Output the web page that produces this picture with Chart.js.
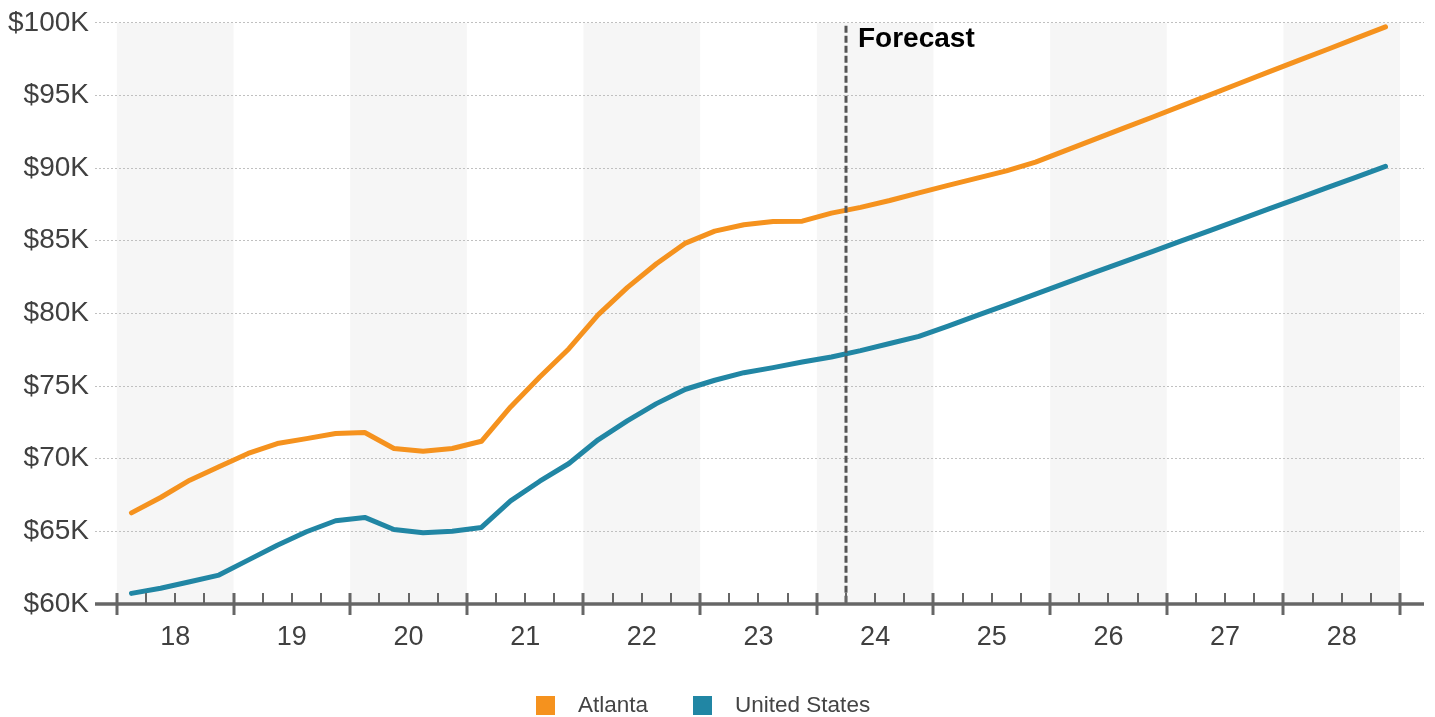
<!DOCTYPE html>
<html>
<head>
<meta charset="utf-8">
<script src="https://cdn.jsdelivr.net/npm/chart.js@4/dist/chart.umd.min.js"></script>
<style>
  body { margin: 0; background: #fff; font-family: "Liberation Sans", Arial, sans-serif; }
  #wrap { position: relative; width: 1435px; height: 717px; }
  #legend { position: absolute; left: 536px; top: 692px; display: flex; align-items: center; font-size: 22.5px; color: #444; }
  .item { display: flex; align-items: center; margin-right: 45px; }
  .swatch { width: 19px; height: 19px; margin-right: 23px; }
</style>
</head>
<body>
<div id="wrap">
  <canvas id="chart" width="1435" height="717"></canvas>
  <div id="legend"></div>
</div>
<script>
const years = ["18","19","20","21","22","23","24","25","26","27","28"];
const quarters = ["Q1","Q2","Q3","Q4"];

// median household income, $K, quarterly 2018 Q1 .. 2028 Q4
const atlanta = [
  66.27, 67.33, 68.52, 69.44, 70.36, 71.04, 71.38, 71.73,
  71.8, 70.7, 70.52, 70.7, 71.2, 73.56, 75.62, 77.57,
  79.9, 81.77, 83.42, 84.84, 85.66, 86.1, 86.32, 86.35,
  86.9, 87.3, 87.77, 88.29, 88.81, 89.31, 89.81, 90.41,
  91.18, 91.96, 92.73, 93.5, 94.28, 95.06, 95.84, 96.62,
  97.4, 98.16, 98.94, 99.72
];
const unitedStates = [
  60.73, 61.08, 61.53, 61.99, 63.02, 64.05, 64.97, 65.73,
  65.96, 65.13, 64.9, 65.0, 65.27, 67.1, 68.45, 69.67,
  71.3, 72.6, 73.79, 74.78, 75.4, 75.92, 76.27, 76.65,
  77.0, 77.44, 77.93, 78.42, 79.13, 79.86, 80.59, 81.33,
  82.06, 82.8, 83.53, 84.25, 84.99, 85.72, 86.45, 87.19,
  87.92, 88.65, 89.38, 90.12
];
const seriesNames = ["Atlanta", "United States"];
const seriesColors = ["#f5921e", "#2186a4"];
const yTicks = [60, 65, 70, 75, 80, 85, 90, 95, 100];
const forecastFrom = 25; // first forecast quarter (24 Q2)

const labels = [];
years.forEach(y => quarters.forEach(q => labels.push(q + " " + y)));

const FONT = "'Liberation Sans', Arial, sans-serif";

const decor = {
  id: "decor",
  beforeDraw(chart){
    const ctx = chart.ctx, x = chart.scales.x, a = chart.chartArea;
    ctx.save();
    ctx.fillStyle = "#f6f6f6";
    years.forEach((y,k)=>{
      if(k % 2) return;
      const x0 = x.getPixelForValue(4*k - 0.5);
      const x1 = x.getPixelForValue(4*k + 3.5);
      ctx.fillRect(x0, a.top, x1 - x0, a.bottom - a.top);
    });
    ctx.restore();
  },
  afterDatasetsDraw(chart){
    const ctx = chart.ctx, x = chart.scales.x, a = chart.chartArea;
    ctx.save();
    // forecast divider
    const fx = Math.round(x.getPixelForValue(forecastFrom - 0.5));
    ctx.strokeStyle = "#555";
    ctx.lineWidth = 3;
    ctx.setLineDash([7,3]);
    ctx.beginPath(); ctx.moveTo(fx, a.top + 3); ctx.lineTo(fx, a.bottom); ctx.stroke();
    ctx.setLineDash([]);
    ctx.fillStyle = "#000";
    ctx.font = "bold 28px " + FONT;
    ctx.textBaseline = "alphabetic";
    ctx.fillText("Forecast", fx + 12, 47);

    // x axis line and ticks
    ctx.strokeStyle = "#666";
    ctx.lineWidth = 3.5;
    ctx.beginPath(); ctx.moveTo(a.left, a.bottom); ctx.lineTo(a.right, a.bottom); ctx.stroke();
    for(let i = 0; i <= labels.length; i++){
      const px = Math.round(x.getPixelForValue(i - 0.5));
      const major = i % 4 === 0;
      ctx.lineWidth = major ? 3 : 2;
      ctx.beginPath();
      ctx.moveTo(px, a.bottom - 11);
      ctx.lineTo(px, major ? a.bottom + 11 : a.bottom);
      ctx.stroke();
    }
    ctx.restore();
  }
};

const ctx = document.getElementById("chart").getContext("2d");
new Chart(ctx, {
  type: "line",
  data: {
    datasets: [atlanta, unitedStates].map((vals, s)=>({
      label: seriesNames[s],
      data: vals.map((v,i)=>({ x: i, y: v })),
      borderColor: seriesColors[s],
      backgroundColor: seriesColors[s],
      borderWidth: 5,
      borderCapStyle: "round",
      borderJoinStyle: "round",
      pointRadius: 0,
      tension: 0
    }))
  },
  options: {
    responsive: false,
    animation: false,
    devicePixelRatio: 1,
    layout: { padding: { top: 22, right: 11, left: 0, bottom: 0 } },
    plugins: { legend: { display: false }, tooltip: { enabled: false } },
    scales: {
      x: {
        type: "linear",
        min: -1.25,
        max: 44.32,
        afterBuildTicks: s => { s.ticks = years.map((y,k)=>({ value: 4*k + 1.5 })); },
        afterFit: s => { s.height = 113; },
        grid: { display: false, drawTicks: false },
        border: { display: false },
        ticks: {
          autoSkip: false, maxRotation: 0, padding: 17,
          color: "#404040", font: { family: FONT, size: 27 },
          callback: (v, i) => years[i]
        }
      },
      y: {
        min: 60,
        max: 100,
        afterBuildTicks: s => { s.ticks = yTicks.map(v=>({ value: v })); },
        afterFit: s => { s.width = 95; },
        grid: {
          drawTicks: false,
          color: c => c.tick && c.tick.value === 60 ? "rgba(0,0,0,0)" : "#c0c0c0",
          lineWidth: 1
        },
        border: { display: false, dash: [2,2] },
        ticks: {
          padding: 6,
          color: "#404040", font: { family: FONT, size: 28 },
          callback: v => "$" + v + "K"
        }
      }
    }
  },
  plugins: [decor]
});

// legend
const legendEl = document.getElementById("legend");
seriesNames.forEach((name, s)=>{
  const item = document.createElement("div");
  item.className = "item";
  item.innerHTML = `<span class="swatch" style="background:${seriesColors[s]}"></span><span>${name}</span>`;
  legendEl.appendChild(item);
});
</script>
</body>
</html>
